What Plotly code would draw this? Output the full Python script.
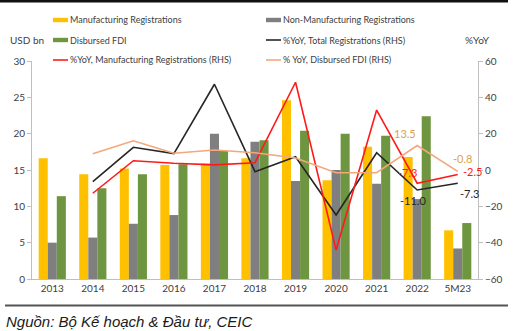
import plotly.graph_objects as go

# ---- data -------------------------------------------------------------
categories = ["2013", "2014", "2015", "2016", "2017", "2018", "2019",
              "2020", "2021", "2022", "5M23"]

manufacturing_reg = [16.6, 14.4, 15.2, 15.7, 15.9, 16.6, 24.6, 13.6, 18.2, 16.8, 6.7]
non_manufacturing_reg = [5.0, 5.7, 7.6, 8.8, 20.0, 18.9, 13.5, 15.0, 13.1, 11.0, 4.2]
disbursed_fdi = [11.4, 12.5, 14.4, 15.8, 17.6, 19.1, 20.4, 20.0, 19.7, 22.4, 7.7]

yoy_total_reg = [None, -6.4, 12.5, 9.0, 47.2, -0.9, 7.3, -24.8, 9.5, -11.0, -7.3]
yoy_manufacturing_reg = [None, -12.8, 5.1, 3.7, 2.8, 4.0, 48.3, -44.0, 33.0, -7.3, -2.5]
yoy_disbursed_fdi = [None, 9.0, 16.1, 9.2, 11.0, 9.5, 6.6, -1.5, -1.5, 13.5, -0.8]

# ---- styling ----------------------------------------------------------
YELLOW = "#FFC000"
GREY = "#7F7F7F"
GREEN = "#6E9540"
BLACK = "#262626"
RED = "#FF1A1A"
ORANGE = "#F4A77A"
GOLD = "#D9A44C"
TEXT = "#404040"
AXIS = "#BFBFBF"
FONT = "Lato"

W, H = 528, 331
L, R, T, B = 32, 50, 61, 52
PW, PH = W - L - R, H - T - B


def px(xp):
    return (xp - L) / PW


def py(yp):
    return (H - B - yp) / PH


fig = go.Figure()

for name, vals, col in [
    ("Manufacturing Registrations", manufacturing_reg, YELLOW),
    ("Non-Manufacturing Registrations", non_manufacturing_reg, GREY),
    ("Disbursed FDI", disbursed_fdi, GREEN),
]:
    fig.add_trace(go.Bar(x=categories, y=vals, name=name, marker_color=col,
                         marker_line_width=0, yaxis="y"))

for name, vals, col in [
    ("%YoY, Total Registrations (RHS)", yoy_total_reg, BLACK),
    ("%YoY, Manufacturing Registrations (RHS)", yoy_manufacturing_reg, RED),
    ("% YoY, Disbursed FDI (RHS)", yoy_disbursed_fdi, ORANGE),
]:
    fig.add_trace(go.Scatter(x=categories, y=vals, name=name, mode="lines",
                             line=dict(color=col, width=1.6),
                             yaxis="y2", connectgaps=False))

# value labels on the last two points of each line (x given as category index)
labels = [
    (9, yoy_disbursed_fdi, GOLD, -12, 12),
    (10, yoy_disbursed_fdi, GOLD, 5, 13),
    (9, yoy_manufacturing_reg, RED, -10, 11),
    (10, yoy_manufacturing_reg, RED, 15, 3),
    (9, yoy_total_reg, BLACK, -4, -11),
    (10, yoy_total_reg, BLACK, 12, -10),
]
annotations = []
for i, series, col, dx, dy in labels:
    val = series[i]
    annotations.append(dict(x=i, y=val, xref="x", yref="y2",
                            text=f"{val:.1f}", showarrow=False,
                            xshift=dx, yshift=dy,
                            font=dict(family=FONT, size=11, color=col)))

# legend, laid out in two columns above the plot
legend_items = [
    ("Manufacturing Registrations", YELLOW, "bar", 53, 20),
    ("Non-Manufacturing Registrations", GREY, "bar", 266, 20),
    ("Disbursed FDI", GREEN, "bar", 53, 40),
    ("%YoY, Total Registrations (RHS)", BLACK, "line", 266, 40),
    ("%YoY, Manufacturing Registrations (RHS)", RED, "line", 53, 60),
    ("% YoY, Disbursed FDI (RHS)", ORANGE, "line", 266, 60),
]
shapes = []
for text, col, kind, x0, yc in legend_items:
    h = 2.2 if kind == "bar" else 0.8
    shapes.append(dict(type="rect", xref="paper", yref="paper",
                       x0=px(x0), x1=px(x0 + 15), y0=py(yc + h), y1=py(yc - h),
                       fillcolor=col, line_width=0, layer="above"))
    annotations.append(dict(x=px(x0 + 15), y=py(yc), xref="paper", yref="paper",
                            text=text, showarrow=False, xanchor="left",
                            yanchor="middle",
                            font=dict(family=FONT, size=9, color=TEXT)))

annotations.append(dict(x=px(8), y=py(40), xref="paper", yref="paper",
                        text="USD bn", showarrow=False, xanchor="left",
                        yanchor="middle", font=dict(family=FONT, size=10, color=TEXT)))
annotations.append(dict(x=px(463), y=py(40), xref="paper", yref="paper",
                        text="%YoY", showarrow=False, xanchor="left",
                        yanchor="middle", font=dict(family=FONT, size=10, color=TEXT)))
annotations.append(dict(x=px(4), y=py(321), xref="paper", yref="paper",
                        text="<i>Nguồn: Bộ Kế hoạch &amp; Đầu tư, CEIC</i>",
                        showarrow=False, xanchor="left", yanchor="middle",
                        font=dict(family="Liberation Sans", size=15, color="#1a1a1a")))

# page rules: thick top bar and the separator above the source line
shapes.append(dict(type="line", xref="paper", yref="paper",
                   x0=px(0), x1=px(508), y0=py(1), y1=py(1),
                   line=dict(color="#111111", width=3)))
shapes.append(dict(type="line", xref="paper", yref="paper",
                   x0=px(5), x1=px(508), y0=py(305.5), y1=py(305.5),
                   line=dict(color="#555555", width=2)))

fig.update_layout(
    width=W, height=H,
    margin=dict(l=L, r=R, t=T, b=B, pad=0),
    paper_bgcolor="white", plot_bgcolor="white",
    barmode="group", bargap=0.33, bargroupgap=0,
    showlegend=False,
    font=dict(family=FONT, size=10, color=TEXT),
    xaxis=dict(type="category", range=[-0.5, len(categories) - 0.5],
               showgrid=False, showline=True,
               linecolor=AXIS, linewidth=1, ticks="", tickfont=dict(size=10),
               fixedrange=True),
    yaxis=dict(range=[0, 30], dtick=5, showgrid=False, showline=True,
               linecolor=AXIS, linewidth=1, ticks="outside", ticklen=4,
               tickcolor=AXIS, zeroline=False, tickfont=dict(size=10)),
    yaxis2=dict(range=[-60, 60], dtick=20, overlaying="y", side="right",
                showgrid=False, showline=True, linecolor=AXIS, linewidth=1,
                ticks="outside", ticklen=4, tickcolor=AXIS, zeroline=False,
                tickfont=dict(size=10)),
    annotations=annotations,
    shapes=shapes,
)

fig.write_html("out.html")
